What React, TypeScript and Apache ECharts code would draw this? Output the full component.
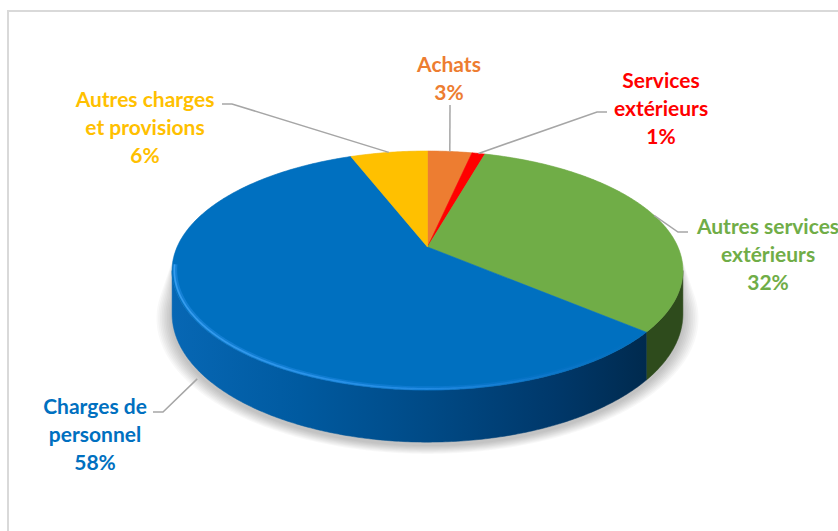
import React, { useEffect, useRef } from "react";
import * as echarts from "echarts";

// ---- data ----
const categories = [
  "Achats",
  "Services extérieurs",
  "Autres services extérieurs",
  "Charges de personnel",
  "Autres charges et provisions",
];
const values = [3.4, 1.0, 31.8, 57.9, 5.9];
const labelNames = [
  "Achats",
  "Services\nextérieurs",
  "Autres services\nextérieurs",
  "Charges de\npersonnel",
  "Autres charges\net provisions",
];

// ---- styles / layout ----
const topColors = ["#ed7d31", "#ff0000", "#70ad47", "#0070c0", "#ffc000"];
const labelColors = ["#ed7d31", "#ff0000", "#70ad47", "#0070c0", "#ffc000"];
const labelLayout = [
  { text: [449, 77], path: [[450, 105]], lvl: 0 },
  { text: [661, 107], path: [[597, 112], [607, 112]], lvl: 0 },
  { text: [768, 253], path: [[678, 232], [688, 232]], lvl: 0 },
  { text: [95, 433], path: [[163, 412], [153, 412]], lvl: 1.2 },
  { text: [145, 126], path: [[232, 104], [222, 104]], lvl: 0 },
];

// pseudo-3D projection of the pie disc
const CX = 427.5;
const CY = 247;
const A = 250.4;
const B = 114.9;
const P = 0.197;
const H = 41.8;
const TR = Math.acos(-P); // right silhouette angle
const TL = 2 * Math.PI - TR; // left silhouette angle

function proj(t: number, lvl: number, grow = 0, dy = 0): number[] {
  const x = Math.sin(t);
  const z = Math.cos(t);
  const w = 1 + P * z;
  return [
    CX + ((A + grow) * x) / w,
    CY - ((B + grow * 0.46) * z) / w + (H * lvl) / w + dy,
  ];
}
function arc(t0: number, t1: number, lvl: number, grow = 0, dy = 0): number[][] {
  const n = Math.max(2, Math.ceil(Math.abs(t1 - t0) / 0.01));
  const pts: number[][] = [];
  for (let k = 0; k <= n; k++) pts.push(proj(t0 + ((t1 - t0) * k) / n, lvl, grow, dy));
  return pts;
}

export default function App() {
  const ref = useRef<HTMLDivElement>(null);
  useEffect(() => {
    if (!ref.current) return;
    const chart = echarts.init(ref.current, undefined, { renderer: "svg" });
    const total = values.reduce((a, b) => a + b, 0);
    const starts: number[] = [];
    const ends: number[] = [];
    let acc = 0;
    values.forEach((v) => {
      starts.push((acc / total) * Math.PI * 2);
      acc += v;
      ends.push((acc / total) * Math.PI * 2);
    });

    const blueSide = new echarts.graphic.LinearGradient(
      172,
      0,
      683,
      0,
      [
        { offset: 0, color: "#0767b4" },
        { offset: 0.25, color: "#005aa0" },
        { offset: 0.5, color: "#004a86" },
        { offset: 0.75, color: "#00386a" },
        { offset: 0.93, color: "#002a4e" },
        { offset: 1, color: "#002646" },
      ],
      true
    );
    const sideColors: any[] = ["#8c4a1d", "#990000", "#2e4b1c", blueSide, "#a07b00"];
    const rimWide = new echarts.graphic.LinearGradient(
      172,
      0,
      640,
      0,
      [
        { offset: 0, color: "rgba(40,145,235,0.5)" },
        { offset: 0.55, color: "rgba(30,135,230,0.4)" },
        { offset: 1, color: "rgba(20,110,200,0)" },
      ],
      true
    );
    const rimThin = new echarts.graphic.LinearGradient(
      172,
      0,
      640,
      0,
      [
        { offset: 0, color: "rgba(70,170,250,0.7)" },
        { offset: 0.55, color: "rgba(55,155,245,0.5)" },
        { offset: 1, color: "rgba(40,130,220,0)" },
      ],
      true
    );

    // soft halo under the pie
    const halo: any[] = [];
    const layers = 9;
    for (let k = layers; k >= 1; k--) {
      const g = k * 1.7;
      const pts = arc(TR - 0.15, TL + 0.15, 1, g, 3).concat(
        arc(TL + 0.15, TR - 0.15 + 2 * Math.PI, 0, 0, 0)
      );
      halo.push({
        type: "polygon",
        shape: { points: pts },
        style: { fill: "rgba(0,0,0,0.028)" },
        silent: true,
      });
    }

    const option: any = {
      animation: false,
      backgroundColor: "#ffffff",
      graphic: [
        {
          type: "rect",
          shape: { x: 8, y: 11, width: 900, height: 600 },
          style: { fill: "#ffffff", stroke: "#d9d9d9", lineWidth: 2 },
          silent: true,
        },
        ...halo,
      ],
      series: [
        {
          type: "custom",
          coordinateSystem: "none",
          data: values.map((v, i) => ({ name: categories[i], value: v })),
          renderItem: (params: any, api: any) => {
            const i = params.dataIndex;
            const s = starts[i];
            const e = ends[i];
            const children: any[] = [];
            const a0 = Math.max(s, TR);
            const a1 = Math.min(e, TL);
            if (a1 > a0) {
              const pts = arc(a0, a1, 0).concat(arc(a1, a0, 1));
              children.push({
                type: "polygon",
                shape: { points: pts },
                style: { fill: sideColors[i], stroke: sideColors[i], lineWidth: 0.5 },
              });
            }
            const topPts = [[CX, CY]].concat(arc(s, e, 0));
            children.push({
              type: "polygon",
              shape: { points: topPts },
              style: { fill: topColors[i], stroke: topColors[i], lineWidth: 0.6 },
            });
            if (a1 > a0 && i === 3) {
              children.push({
                type: "polyline",
                shape: { points: arc(a1 + 0.05, a0, 0, -3) },
                style: { stroke: rimWide, lineWidth: 4, fill: null },
              });
              children.push({
                type: "polyline",
                shape: { points: arc(a1 + 0.05, a0, 0, -2.2) },
                style: { stroke: rimThin, lineWidth: 1.6, fill: null },
              });
            }
            // leader line
            const lay = labelLayout[i];
            const mid = (s + e) / 2;
            const start = proj(mid, lay.lvl);
            children.push({
              type: "polyline",
              shape: { points: [start].concat(lay.path as number[][]) },
              style: { stroke: "#a6a6a6", lineWidth: 1.5, fill: null },
            });
            const pct = Math.round((api.value(0) / total) * 100);
            children.push({
              type: "text",
              x: lay.text[0],
              y: lay.text[1],
              style: {
                text: labelNames[i] + "\n" + pct + "%",
                fill: labelColors[i],
                fontFamily: "Lato",
                fontWeight: "bold",
                fontSize: 21,
                lineHeight: 28,
                align: "center",
                verticalAlign: "middle",
              },
            });
            return { type: "group", children };
          },
        },
      ],
    };
    chart.setOption(option);
    return () => chart.dispose();
  }, []);
  return (
    <div
      ref={ref}
      style={{ position: "fixed", left: 0, top: 0, width: 838, height: 531, background: "#fff" }}
    />
  );
}
